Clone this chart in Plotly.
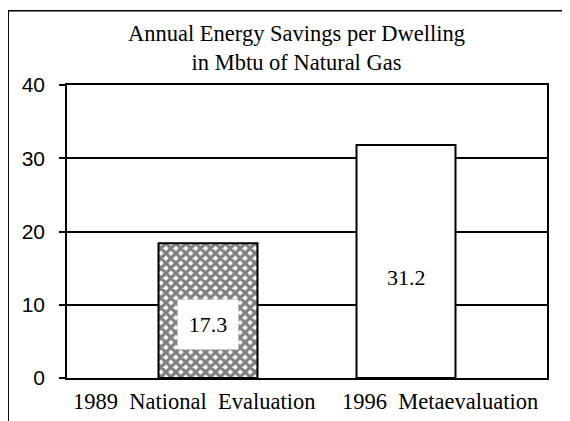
import plotly.graph_objects as go

# Data
categories = ["1989 National Evaluation", "1996 Metaevaluation"]
bar_heights = [18.4, 31.8]
value_labels = ["17.3", "31.2"]
y_ticks = [0, 10, 20, 30, 40]
title_lines = ["Annual Energy Savings per Dwelling", "in Mbtu of Natural Gas"]

SERIF = "Liberation Serif, Times New Roman, serif"
SANS = "Liberation Sans, Arial, sans-serif"

fig = go.Figure()
fig.add_trace(go.Bar(
    x=categories,
    y=bar_heights,
    width=0.5,
    marker=dict(
        color="white",
        line=dict(color="black", width=2),
        pattern=dict(shape=["x", ""], fgcolor="black", bgcolor="white",
                     size=7, solidity=0.7),
    ),
    hoverinfo="skip",
))

# value labels inside the bars
fig.add_annotation(x=categories[0], y=bar_heights[0] * 0.40, text=value_labels[0],
                   showarrow=False, bgcolor="white", width=58, height=47,
                   font=dict(family=SERIF, size=22, color="black"))
fig.add_annotation(x=categories[1], y=bar_heights[1] * 0.43, text=value_labels[1],
                   showarrow=False,
                   font=dict(family=SERIF, size=22, color="black"))

# category labels under the bars
for cat, shift in zip(categories, [-14, 34]):
    fig.add_annotation(x=cat, y=0, yref="y", yanchor="top", yshift=-9, xshift=shift,
                       text=cat.replace(" ", "\u00a0\u00a0"), showarrow=False,
                       font=dict(family=SERIF, size=22.5, color="black"))

# two-line title
fig.add_annotation(x=0.479, xref="paper", y=1.125, yref="paper", yanchor="middle",
                   text="<br>".join(title_lines), showarrow=False,
                   font=dict(family=SERIF, size=22.5, color="black"))

# outer frame
fig.add_shape(type="line", xref="paper", yref="paper", x0=-0.123, x1=-0.123, y0=1.253, y1=-0.2,
              line=dict(color="black", width=2))
fig.add_shape(type="line", xref="paper", yref="paper", x0=-0.123, x1=1.044, y0=1.253, y1=1.253,
              line=dict(color="black", width=1.5))
fig.add_shape(type="line", xref="paper", yref="paper", x0=1.044, x1=1.044, y0=1.253, y1=-0.2,
              line=dict(color="#444", width=1, dash="dot"))

# the page body has an 8px margin, so the figure is a little smaller than the window
fig.update_layout(
    width=562, height=413,
    margin=dict(l=59, r=23, t=77, b=43),
    paper_bgcolor="white", plot_bgcolor="white",
    showlegend=False,
    bargap=0.5,
)
fig.update_xaxes(
    type="category", range=[-0.712, 1.712], showticklabels=False, ticks="",
    showline=True, linecolor="black", linewidth=2, mirror=True, showgrid=False,
)
fig.update_yaxes(
    range=[0, 40], tickvals=y_ticks, ticks="outside", ticklen=6, tickwidth=1.5,
    tickcolor="black", showline=True, linecolor="black", linewidth=1.5, mirror=True,
    showgrid=True, gridcolor="black", gridwidth=1.5, zeroline=False,
    ticklabelstandoff=10,
    tickfont=dict(family=SANS, size=21, color="black"),
)

fig.write_html("out.html")
